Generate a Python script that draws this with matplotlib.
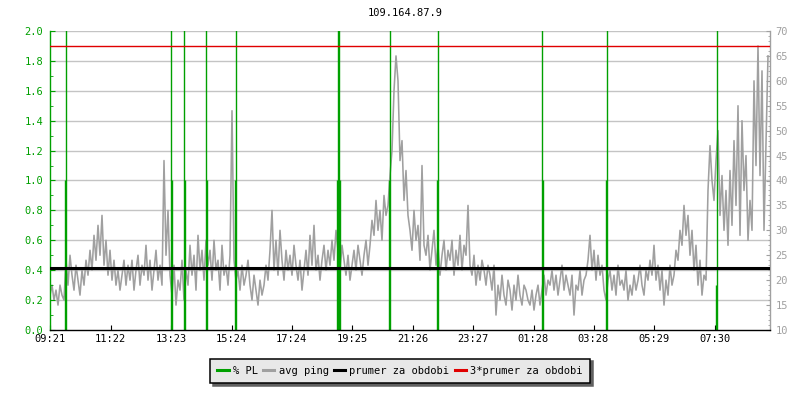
import numpy as np
import matplotlib.pyplot as plt
from matplotlib.lines import Line2D
from matplotlib.ticker import MultipleLocator, FormatStrFormatter
from matplotlib.transforms import blended_transform_factory

plt.rcParams["font.family"] = ["DejaVu Sans Mono", "DejaVu Sans"]

title = "109.164.87.9"
time_labels = ["09:21", "11:22", "13:23", "15:24", "17:24", "19:25",
               "21:26", "23:27", "01:28", "03:28", "05:29", "07:30"]

# avg ping [ms], one sample every 4 minutes from 09:21
ping = [
    17, 19, 16, 18, 15, 19, 17, 16, 24, 19, 25, 21, 18, 23, 20, 17, 22, 19, 24, 21,
    26, 22, 29, 24, 31, 25, 33, 23, 28, 21, 26, 20, 24, 19, 22, 18, 21, 24, 19, 23,
    20, 24, 18, 22, 25, 19, 23, 21, 27, 20, 24, 18, 22, 26, 20, 23, 19, 44, 25, 34,
    21, 17, 23, 15, 20, 18, 24, 16, 22, 19, 27, 21, 25, 18, 29, 22, 26, 20, 28, 23,
    26, 20, 28, 22, 24, 18, 27, 21, 23, 19, 25, 54, 24, 20, 22, 18, 23, 19, 21, 24,
    19, 16, 21, 18, 15, 20, 17, 19, 23, 20, 26, 34, 22, 28, 21, 30, 24, 20, 26, 22,
    25, 21, 27, 23, 20, 24, 18, 22, 26, 21, 29, 23, 31, 22, 25, 20, 24, 27, 22, 26,
    23, 28, 24, 30, 26, 22, 27, 24, 21, 25, 20, 23, 26, 22, 27, 24, 21, 25, 28, 23,
    27, 32, 29, 36, 30, 34, 28, 37, 33, 35, 41, 46, 58, 65, 60, 44, 48, 36, 42, 33,
    30, 26, 34, 28, 31, 24, 43, 27, 25, 29, 22, 26, 30, 23, 27, 21, 25, 28, 22, 26,
    24, 28, 21, 26, 23, 29, 22, 27, 25, 35, 23, 21, 25, 19, 23, 20, 24, 22, 19, 23,
    21, 18, 23, 13, 19, 16, 21, 17, 15, 20, 18, 14, 19, 16, 21, 17, 15, 19, 18, 16,
    15, 18, 14, 17, 19, 15, 18, 21, 17, 20, 19, 22, 18, 21, 17, 20, 23, 18, 21, 19,
    17, 21, 13, 19, 18, 22, 17, 20, 21, 24, 29, 22, 26, 20, 25, 21, 23, 18, 16, 20,
    22, 18, 21, 17, 23, 19, 20, 18, 22, 16, 19, 17, 21, 18, 20, 23, 19, 17, 22, 20,
    24, 21, 27, 20, 23, 18, 22, 15, 20, 17, 23, 19, 21, 26, 24, 30, 27, 35, 29, 33,
    25, 30, 22, 27, 19, 24, 17, 21, 20, 38, 47, 40, 36, 44, 50, 33, 41, 30, 38, 27,
    42, 31, 48, 35, 55, 29, 52, 38, 45, 28, 36, 30, 60, 43, 67, 41, 62, 30, 48, 65,
]
ping_minutes = np.arange(len(ping)) * 4

# packet loss samples (minutes from 09:21, % PL)
pl_minutes = [30, 32, 242, 244, 268, 270, 312, 314, 370, 372,
              574, 576, 578, 580, 678, 680, 774, 776, 984, 986,
              1112, 1114, 1332, 1334]
pl_values = [1.0, 100, 100, 1.0, 100, 1.0, 100, 1.0, 1.0, 100,
             1.0, 100, 100, 1.0, 1.0, 100, 1.0, 100, 100, 1.0,
             1.0, 100, 0.3, 100]

avg_ping = 22.35

GREEN = "#00a000"
GRAY = "#a0a0a0"
GRID = "#c4c4c4"

fig = plt.figure(figsize=(8, 4), dpi=100)
ax = fig.add_axes([0.0625, 0.175, 0.9, 0.7475])
ax_pl = ax.twinx()

# ping axis (right side, drawn underneath)
ax.yaxis.tick_right()
ax_pl.yaxis.tick_left()
ax_pl.yaxis.set_label_position("left")

grid_tr = blended_transform_factory(ax.transAxes, ax_pl.transData)
for g in np.arange(0.2, 2.01, 0.2):
    ax.plot([0, 1], [g, g], transform=grid_tr, color=GRID, lw=1, zorder=0)

ax.plot(ping_minutes, ping, color=GRAY, lw=1.15, zorder=2)
ax.set_xlim(0, 1440)
ax.set_ylim(10, 70)
ax.yaxis.set_major_locator(MultipleLocator(5))
ax.yaxis.set_minor_locator(MultipleLocator(1))
ax.tick_params(axis="y", which="both", direction="in", colors=GRAY,
               labelsize=7.5, pad=4)
ax.tick_params(axis="y", which="major", length=3)
ax.tick_params(axis="y", which="minor", length=1.5)

tick_pos = [((int(s[:2]) * 60 + int(s[3:])) - (9 * 60 + 21)) % 1440 for s in time_labels]
ax.set_xticks(tick_pos)
ax.set_xticklabels(time_labels)
ax.tick_params(axis="x", direction="in", length=3.6, pad=3, labelsize=7.5,
               colors="black")
for s in ax.spines.values():
    s.set_visible(False)

# packet loss axis (left side, on top)
ax_pl.vlines(pl_minutes, 0, pl_values, color=GREEN, lw=1.0, zorder=2)
ax_pl.plot([0, 1440], [avg_ping, avg_ping], transform=ax.transData,
           color="black", lw=2.2, zorder=3)
ax_pl.plot([0, 1440], [3 * avg_ping, 3 * avg_ping], transform=ax.transData,
           color="#e00000", lw=1.0, zorder=3)
ax_pl.set_ylim(0, 2)
ax_pl.set_xlim(0, 1440)
ax_pl.yaxis.set_major_locator(MultipleLocator(0.2))
ax_pl.yaxis.set_minor_locator(MultipleLocator(0.1))
ax_pl.yaxis.set_major_formatter(FormatStrFormatter("%.1f"))
ax_pl.tick_params(axis="y", which="both", direction="in", colors=GREEN,
                  labelsize=7.5, pad=5)
ax_pl.tick_params(axis="y", which="major", length=3.6)
ax_pl.tick_params(axis="y", which="minor", length=2.2)
ax_pl.spines["left"].set_color(GREEN)
ax_pl.spines["right"].set_color(GRAY)
ax_pl.spines["bottom"].set_color("black")
ax_pl.spines["top"].set_visible(False)
for s in ax_pl.spines.values():
    s.set_linewidth(1.0)

fig.text(405 / 800, 1 - 13 / 400, title, ha="center", va="center", fontsize=7.5)

handles = [Line2D([], [], color=GREEN, lw=2.2),
           Line2D([], [], color=GRAY, lw=2.2),
           Line2D([], [], color="black", lw=2.2),
           Line2D([], [], color="#e00000", lw=2.2)]
labels = ["% PL", "avg ping", "prumer za obdobi", "3*prumer za obdobi"]
leg = fig.legend(handles, labels, loc="center", bbox_to_anchor=(0.5, 1 - 371 / 400),
                 ncol=4, fontsize=7.5, fancybox=False, edgecolor="black",
                 facecolor="#e8e8e8", framealpha=1,
                 shadow={"color": "#606060", "alpha": 1},
                 handlelength=1.1, handletextpad=0.4, columnspacing=0.5,
                 borderpad=0.7)
leg.get_frame().set_linewidth(1.1)

fig.savefig("out.png", dpi=100)
